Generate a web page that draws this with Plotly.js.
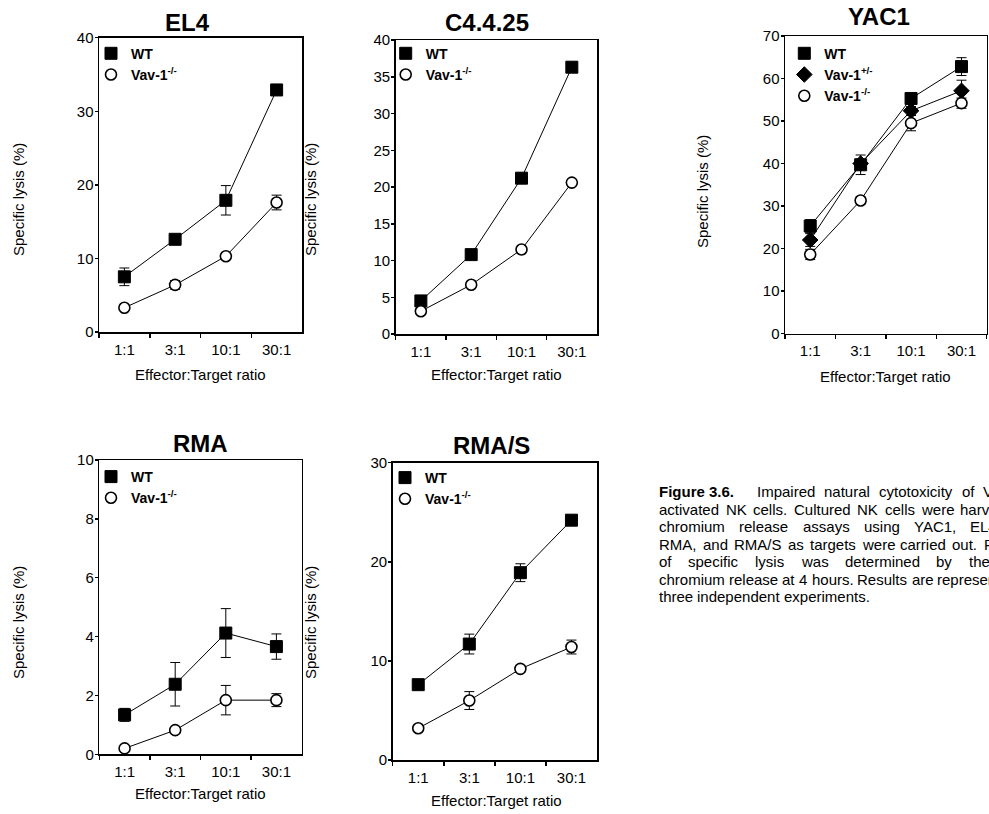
<!DOCTYPE html>
<html>
<head>
<meta charset="utf-8">
<script src="https://cdn.plot.ly/plotly-3.0.1.min.js"></script>
<style>html,body{margin:0;padding:0;background:#fff;}#chart{width:989px;height:814px;}</style>
</head>
<body>
<div id="chart"></div>
<script>
// ---------- data ----------
const ratios = ['1:1', '3:1', '10:1', '30:1'];

const el4WT = [7.5, 12.6, 17.9, 32.9];
const el4WTerr = [1.2, 0.3, 2.0, 0.5];
const el4KO = [3.3, 6.4, 10.3, 17.6];
const el4KOerr = [0.2, 0.6, 0.3, 1.0];

const c4WT = [4.5, 10.8, 21.2, 36.3];
const c4WTerr = [0.3, 0.3, 0.3, 0.3];
const c4KO = [3.1, 6.7, 11.5, 20.6];
const c4KOerr = [0.2, 0.2, 0.2, 0.2];

const yacWT = [25.3, 39.7, 55.3, 62.8];
const yacWTerr = [1.5, 2.3, 1.2, 2.1];
const yacHET = [22.0, 40.0, 52.4, 57.1];
const yacHETerr = [1.5, 1.0, 1.0, 2.5];
const yacKO = [18.6, 31.3, 49.5, 54.2];
const yacKOerr = [1.2, 0.8, 1.8, 1.2];

const rmaWT = [1.34, 2.38, 4.12, 3.66];
const rmaWTerr = [0.22, 0.74, 0.83, 0.43];
const rmaKO = [0.2, 0.82, 1.84, 1.84];
const rmaKOerr = [0.04, 0.05, 0.5, 0.22];

const rmasWT = [7.6, 11.7, 18.9, 24.2];
const rmasWTerr = [0.5, 1.0, 0.9, 0.3];
const rmasKO = [3.2, 6.0, 9.2, 11.4];
const rmasKOerr = [0.2, 0.9, 0.35, 0.7];

const panelTitles = ['EL4', 'C4.4.25', 'YAC1', 'RMA', 'RMA/S'];
const nameWT = '<b>WT</b>';
const nameHET = '<b>Vav-1<sup>+/-</sup></b>';
const nameKO = '<b>Vav-1<sup>-/-</sup></b>';
const yTitle = 'Specific lysis (%)';
const xTitle = 'Effector:Target ratio';

// caption (justified text). Each line: segments of words; a segment is
// [words, x of first word, x of last word or null for normal spacing]
const captionLines = [
  [[['Figure 3.6.'], 657, null, true], [['Impaired', 'natural', 'cytotoxicity', 'of', 'Vav-1-deficient'], 755, 981]],
  [[['activated', 'NK', 'cells.', 'Cultured', 'NK', 'cells', 'were', 'harvested'], 657, 958.3]],
  [[['chromium', 'release', 'assays', 'using', 'YAC1,', 'EL4,'], 657, 968.3]],
  [[['RMA,', 'and', 'RMA/S', 'as', 'targets', 'were', 'carried', 'out.', 'Percentage'], 657, 981.7]],
  [[['of', 'specific', 'lysis', 'was', 'determined', 'by', 'the'], 657, 967]],
  [[['chromium', 'release', 'at', '4', 'hours.', 'Results', 'are', 'representative', 'of'], 657, null]],
  [[['three', 'independent', 'experiments.'], 657, null]]
];

// ---------- layout helpers ----------
const W = 989, H = 814;
const FONT = 'Arial, "Liberation Sans", sans-serif';
const CAP_SIZE = 15;
const px = v => v / W;
const py = v => 1 - v / H;

const ctx = document.createElement('canvas').getContext('2d');
function textW(t, bold) {
  ctx.font = (bold ? 'bold ' : '') + CAP_SIZE + 'px ' + FONT;
  return ctx.measureText(t).width;
}

// plot boxes in pixels [left, right, top, bottom]
const boxes = [
  [99, 302, 37.7, 332],
  [395.7, 597, 40, 334],
  [785, 986.7, 36, 333.5],
  [99.3, 301.7, 460, 754.3],
  [392.7, 597, 462.7, 760]
];
const yRanges = [[0, 40], [0, 40], [0, 70], [0, 10], [0, 30]];
const yDticks = [10, 5, 10, 2, 10];

const squareM = {symbol: 'square', size: 12, color: '#000', line: {color: '#000', width: 1}};
const diamondM = {symbol: 'diamond', size: 12, color: '#000', line: {color: '#000', width: 1}};
const circleM = {symbol: 'circle', size: 11, color: '#fff', line: {color: '#000', width: 1.6}};

function series(i, y, err, marker, name) {
  const s = i === 0 ? '' : String(i + 1);
  return {
    type: 'scatter', mode: 'lines+markers', x: ratios, y: y,
    xaxis: 'x' + s, yaxis: 'y' + s, name: name, showlegend: false,
    line: {color: '#000', width: 1},
    marker: marker,
    error_y: {type: 'data', array: err, visible: true, color: '#000', thickness: 1, width: 5},
    cliponaxis: false
  };
}
function legendEntry(i, marker, name) {
  const s = i === 0 ? '' : String(i + 1);
  return {
    type: 'scatter', mode: 'markers', x: [null], y: [null],
    xaxis: 'x' + s, yaxis: 'y' + s, name: name, showlegend: true,
    legend: 'legend' + s, marker: marker
  };
}

const data = [
  series(0, el4WT, el4WTerr, squareM, nameWT),
  series(0, el4KO, el4KOerr, circleM, nameKO),
  series(1, c4WT, c4WTerr, squareM, nameWT),
  series(1, c4KO, c4KOerr, circleM, nameKO),
  series(2, yacWT, yacWTerr, squareM, nameWT),
  series(2, yacHET, yacHETerr, diamondM, nameHET),
  series(2, yacKO, yacKOerr, circleM, nameKO),
  series(3, rmaWT, rmaWTerr, squareM, nameWT),
  series(3, rmaKO, rmaKOerr, circleM, nameKO),
  series(4, rmasWT, rmasWTerr, squareM, nameWT),
  series(4, rmasKO, rmasKOerr, circleM, nameKO),
  legendEntry(0, squareM, nameWT), legendEntry(0, circleM, nameKO),
  legendEntry(1, squareM, nameWT), legendEntry(1, circleM, nameKO),
  legendEntry(2, squareM, nameWT), legendEntry(2, diamondM, nameHET), legendEntry(2, circleM, nameKO),
  legendEntry(3, squareM, nameWT), legendEntry(3, circleM, nameKO),
  legendEntry(4, squareM, nameWT), legendEntry(4, circleM, nameKO)
];

const layout = {
  width: W, height: H,
  margin: {l: 0, r: 0, t: 0, b: 0},
  paper_bgcolor: '#fff', plot_bgcolor: '#fff',
  font: {family: FONT, color: '#000', size: 15},
  annotations: [],
  hovermode: false
};

// legend anchor positions [symbol-center x, first row center y]
const legendPos = [[111, 51.7], [405.7, 51.7], [804.3, 51.7], [111, 475], [405, 476]];

boxes.forEach((b, i) => {
  const s = i === 0 ? '' : String(i + 1);
  layout['xaxis' + s] = {
    domain: [px(b[0]), px(b[1])], anchor: 'y' + s,
    type: 'category', categoryarray: ratios, range: [-0.5, 3.5],
    tickson: 'boundaries', ticks: 'outside', ticklen: 4, tickwidth: 1.5, tickcolor: '#000',
    showline: true, linecolor: '#000', linewidth: 1.5, mirror: true,
    showgrid: false, zeroline: false, fixedrange: true,
    tickfont: {family: FONT, size: 15, color: '#000'}, ticklabelstandoff: 3
  };
  layout['yaxis' + s] = {
    domain: [py(b[3]), py(b[2])], anchor: 'x' + s,
    range: yRanges[i], dtick: yDticks[i], tick0: 0,
    ticks: 'outside', ticklen: 3, tickwidth: 1.5, tickcolor: '#000',
    showline: true, linecolor: '#000', linewidth: 1.5, mirror: true,
    showgrid: false, zeroline: false, fixedrange: true,
    tickfont: {family: FONT, size: 15, color: '#000'}, ticklabelstandoff: -2
  };
  const lp = legendPos[i];
  layout['legend' + s] = {
    x: px(lp[0] - 20), y: py(lp[1] - 14), xanchor: 'left', yanchor: 'top',
    bgcolor: 'rgba(0,0,0,0)', borderwidth: 0,
    font: {family: FONT, size: 14, color: '#000'},
    tracegroupgap: 0, itemclick: false, itemdoubleclick: false
  };
});

// panel titles
const titlePos = [[187.3, 22.7], [486.7, 22.7], [878.7, 16.7], [200.7, 443.3], [491, 445]];
titlePos.forEach((p, i) => {
  layout.annotations.push({
    text: '<b>' + panelTitles[i] + '</b>', xref: 'paper', yref: 'paper',
    x: px(p[0]), y: py(p[1]), xanchor: 'center', yanchor: 'middle', showarrow: false,
    font: {family: FONT, size: 24, color: '#000'}
  });
});
// y titles
const yTitlePos = [[18, 200], [310, 200], [703, 192], [18, 623], [310, 623]];
yTitlePos.forEach(p => {
  layout.annotations.push({
    text: yTitle, xref: 'paper', yref: 'paper', x: px(p[0]), y: py(p[1]),
    xanchor: 'center', yanchor: 'middle', textangle: -90, showarrow: false,
    font: {family: FONT, size: 15, color: '#000'}
  });
});
// x titles
const xTitlePos = [[200, 374], [496.7, 374], [885, 376], [200, 793.3], [496.7, 800]];
xTitlePos.forEach(p => {
  layout.annotations.push({
    text: xTitle, xref: 'paper', yref: 'paper', x: px(p[0]), y: py(p[1]),
    xanchor: 'center', yanchor: 'middle', showarrow: false,
    font: {family: FONT, size: 15, color: '#000'}
  });
});
// caption: lay out words with justified spacing
captionLines.forEach((line, k) => {
  const yy = py(491.7 + k * 17.5);
  line.forEach(seg => {
    const words = seg[0], x0 = seg[1], xLast = seg[2], bold = !!seg[3];
    const widths = words.map(w => textW(w, bold));
    let gap = textW(' ', bold);
    if (xLast !== null && words.length > 1) {
      const before = widths.slice(0, -1).reduce((a, b) => a + b, 0);
      gap = (xLast - x0 - before) / (words.length - 1);
    }
    let x = x0;
    words.forEach((w, j) => {
      layout.annotations.push({
        text: bold ? '<b>' + w + '</b>' : w, xref: 'paper', yref: 'paper', x: px(x), y: yy,
        xanchor: 'left', yanchor: 'middle', showarrow: false, align: 'left',
        font: {family: FONT, size: CAP_SIZE, color: '#000'}
      });
      x += widths[j] + gap;
    });
  });
});

Plotly.newPlot('chart', data, layout, {staticPlot: true, displayModeBar: false});
</script>
</body>
</html>
